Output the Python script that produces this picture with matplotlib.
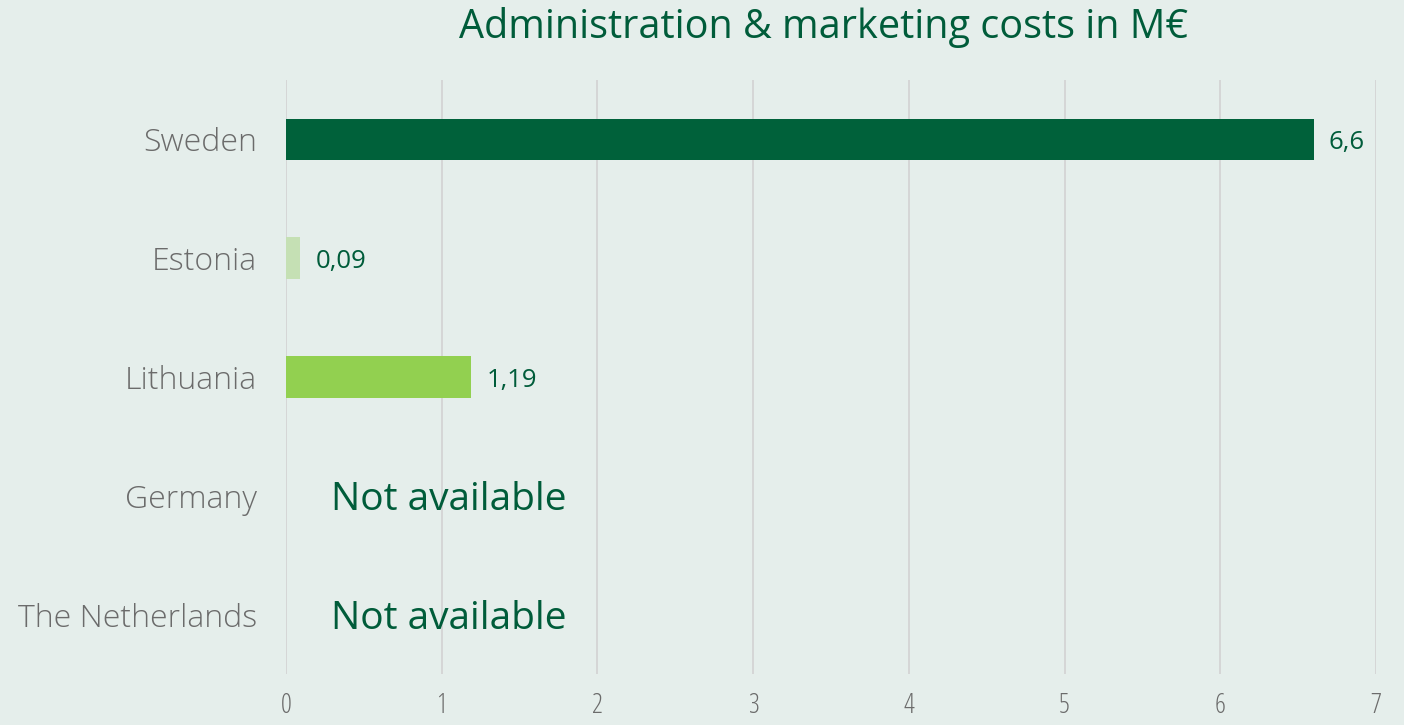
import matplotlib
matplotlib.use("Agg")
import matplotlib.pyplot as plt
import numpy as np

categories = ["Sweden", "Estonia", "Lithuania", "Germany", "The Netherlands"]
values = [6.6, 0.09, 1.19, None, None]
value_labels = ["6,6", "0,09", "1,19", None, None]
bar_colors = ["#00613a", "#c5e0b4", "#92d050", None, None]
missing_text = "Not available"
xticks = [0, 1, 2, 3, 4, 5, 6, 7]
title = "Administration & marketing costs in M€"

bg = "#e5eeeb"
green = "#005c3a"
grey = "#6b6b6b"
font = ["Open Sans", "DejaVu Sans"]

fig = plt.figure(figsize=(14.04, 7.25), dpi=100, facecolor=bg)
ax = fig.add_axes([286/1404, 1-674/725, (1376-286)/1404, (674-80)/725])
ax.set_facecolor(bg)

y = np.arange(len(categories))
for i, (v, c, lab) in enumerate(zip(values, bar_colors, value_labels)):
    if v is None:
        ax.text(0.29, i, missing_text, va="center_baseline", ha="left", color=green,
                fontsize=28, family=font)
    else:
        ax.barh(i, v, height=0.35, color=c, zorder=3)
        ax.annotate(lab, (v, i), xytext=(11, 0), textcoords="offset points",
                    va="center_baseline", ha="left", color=green, fontsize=18.5, family=font)

ax.set_xlim(0, 7)
ax.set_ylim(len(categories)-0.5, -0.5)
ax.set_xticks(xticks)
ax.set_xticklabels([str(t) for t in xticks], color=grey, fontsize=19.5, family=font,
                   fontweight="light", fontstretch="condensed")
ax.set_yticks(y)
ax.set_yticklabels(categories, color=grey, fontsize=23, family=font, fontweight="light")
for t in ax.get_yticklabels():
    t.set_verticalalignment("center_baseline")
ax.tick_params(axis="x", length=0, pad=13)
ax.tick_params(axis="y", length=0, pad=21)
ax.grid(axis="x", color="#d4d4d4", linewidth=1.3, zorder=0)
for s in ax.spines.values():
    s.set_visible(False)

fig.text(824/1404, 1-27/725, title, ha="center", va="center", color=green,
         fontsize=28.5, family=font)

fig.savefig("out.png", dpi=100, facecolor=bg)
